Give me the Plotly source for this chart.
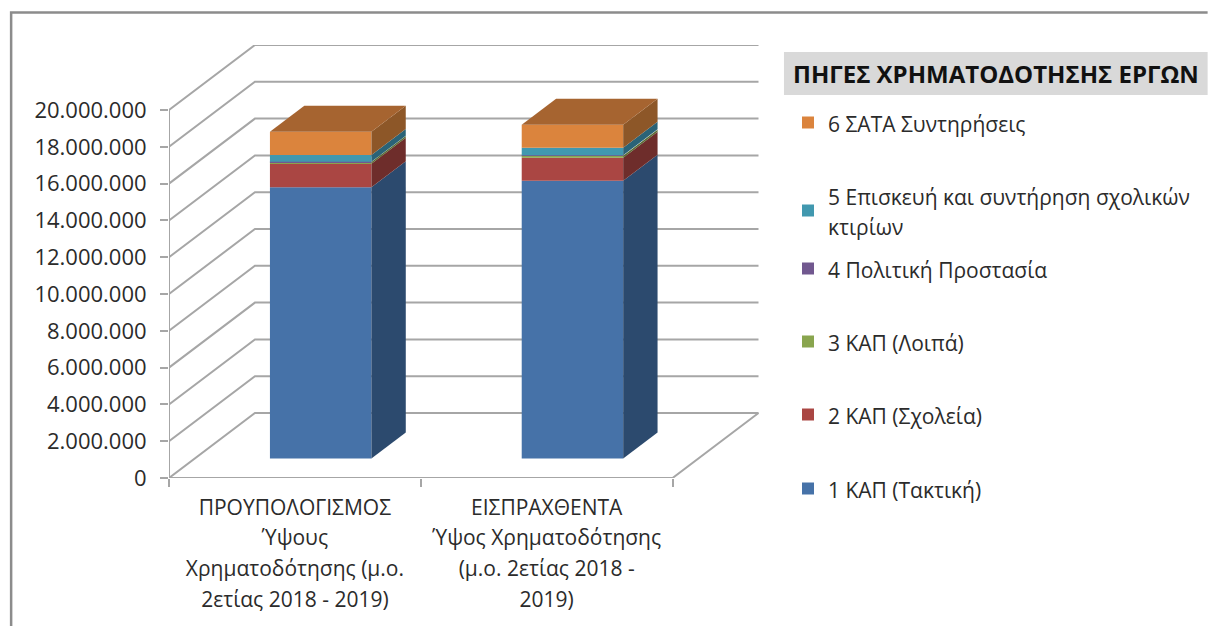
import plotly.graph_objects as go

# ---------- data ----------
categories = ["ΠΡΟΥΠΟΛΟΓΙΣΜΟΣ<br>Ύψους<br>Χρηματοδότησης (μ.ο.<br>2ετίας 2018 - 2019)",
              "ΕΙΣΠΡΑΧΘΕΝΤΑ<br>Ύψος Χρηματοδότησης<br>(μ.ο. 2ετίας 2018 -<br>2019)"]
s1 = [14740000, 15100000]
s2 = [1280000, 1250000]
s3 = [90000, 110000]
s4 = [20000, 20000]
s5 = [360000, 410000]
s6 = [1270000, 1250000]
series_names = ["1 ΚΑΠ (Τακτική)", "2 ΚΑΠ (Σχολεία)", "3 ΚΑΠ (Λοιπά)", "4 Πολιτική Προστασία",
                "5 Επισκευή και συντήρηση σχολικών<br>κτιρίων", "6 ΣΑΤΑ Συντηρήσεις"]
series_values = [s1, s2, s3, s4, s5, s6]
y_ticks = [0, 2000000, 4000000, 6000000, 8000000, 10000000, 12000000, 14000000, 16000000, 18000000, 20000000]
legend_title = "ΠΗΓΕΣ ΧΡΗΜΑΤΟΔΟΤΗΣΗΣ ΕΡΓΩΝ"

# ---------- style ----------
front = ["#4672A8", "#AA4643", "#89A54E", "#71588F", "#4198AF", "#DB843D"]
side = ["#2C4A6E", "#6E2D2B", "#5A6C33", "#4A3A5E", "#2A6377", "#8D5728"]
top_col = "#A66430"
grid = "#A6A6A6"
W, H = 1208, 626
L, R, T, B = 168.5, 760, 45, 478      # plot box in pixels
cat_px, val_px = 252, 18.4 / 1e6      # px per category, px per value unit
dx, dy = 86 / cat_px, 65 / val_px     # chart depth in data units
d0, d1 = 0.3, 0.7                     # bar depth span
bw = 0.403
font = "Open Sans"
txt = "#2b2b2b"
FS, LH, LHX = 21, 30 / 1.3, 30.7 / 1.3


def sized(label):
    """Keep a 30px line pitch while drawing the glyphs at FS."""
    return "<br>".join(f'<span style="font-size:{FS}px">{p}</span>' for p in label.split("<br>"))


def px(x):
    return (x - L) / (R - L)


def py(y):
    return (B - y) / (B - T)


fig = go.Figure()
centers = [0.5, 1.5]
cum = [0, 0]
for i, (name, vals) in enumerate(zip(series_names, series_values)):
    # front face
    fig.add_trace(go.Bar(
        x=[c + d0 * dx for c in centers], y=vals,
        base=[b + d0 * dy for b in cum], width=bw,
        marker=dict(color=front[i], line=dict(width=0)), name=sized(name),
        legend="legend" if i == 0 else f"legend{i + 1}"))
    # side faces
    for k, c in enumerate(centers):
        if vals[k] <= 0:
            continue
        xr = c + bw / 2
        y0, y1 = cum[k], cum[k] + vals[k]
        fig.add_trace(go.Scatter(
            x=[xr + d0 * dx, xr + d1 * dx, xr + d1 * dx, xr + d0 * dx, xr + d0 * dx],
            y=[y0 + d0 * dy, y0 + d1 * dy, y1 + d1 * dy, y1 + d0 * dy, y0 + d0 * dy],
            mode="lines", fill="toself", fillcolor=side[i], line=dict(width=0),
            hoverinfo="skip", showlegend=False))
    cum = [a + b for a, b in zip(cum, vals)]

# top faces
for k, c in enumerate(centers):
    xl, xr = c - bw / 2, c + bw / 2
    fig.add_trace(go.Scatter(
        x=[xl + d0 * dx, xl + d1 * dx, xr + d1 * dx, xr + d0 * dx, xl + d0 * dx],
        y=[cum[k] + d0 * dy, cum[k] + d1 * dy, cum[k] + d1 * dy, cum[k] + d0 * dy, cum[k] + d0 * dy],
        mode="lines", fill="toself", fillcolor=top_col, line=dict(width=0),
        hoverinfo="skip", showlegend=False))

# walls and floor
shapes = []
gl = dict(color=grid, width=2)
for v in y_ticks:
    shapes.append(dict(type="path", xref="x", yref="y", layer="below", line=gl,
                       path=f"M 0 {v} L {dx} {v + dy} L {2 + dx} {v + dy}"))
shapes.append(dict(type="line", xref="x", yref="y", layer="below", line=gl, x0=0, x1=0, y0=0, y1=y_ticks[-1]))
shapes.append(dict(type="path", xref="x", yref="y", layer="below", line=gl,
                   path=f"M 0 0 L 2 0 L {2 + dx} {dy}"))
# outer frame and legend header
shapes.append(dict(type="path", xref="paper", yref="paper", layer="below",
                   line=dict(color="#8C8C8C", width=2.5),
                   path=f"M {px(10.5)} {py(626)} L {px(10.5)} {py(12.5)} L {px(1208)} {py(12.5)}"))
shapes.append(dict(type="rect", xref="paper", yref="paper", layer="below", fillcolor="#D9D9D9",
                   line=dict(width=0), x0=px(784), x1=px(1208), y0=py(95), y1=py(52)))

layout = dict(
    width=W, height=H, autosize=False,
    margin=dict(l=L, r=W - R, t=T, b=H - B, pad=0),
    paper_bgcolor="white", plot_bgcolor="rgba(0,0,0,0)",
    barmode="overlay", separators=",.", shapes=shapes,
    font=dict(family=font, color=txt),
    title=dict(text=f"<b>{legend_title}</b>", x=793 / W, y=1 - 75 / H, xref="container", yref="container",
               xanchor="left", yanchor="middle", font=dict(family=font, size=24, color="#111111")),
    xaxis=dict(range=[0, (R - L) / cat_px], tickvals=centers, ticktext=[sized(c) for c in categories],
               ticks="", showgrid=False, showline=False, zeroline=False, tickangle=0,
               ticklabelstandoff=12, tickfont=dict(size=LHX, color=txt),
               minor=dict(tickvals=[0, 1, 2], ticks="outside", ticklen=8, tickwidth=2, tickcolor=grid, showgrid=False)),
    yaxis=dict(range=[0, (B - T) / val_px], tickvals=y_ticks, tickformat=",d", ticks="outside",
               ticklen=8, tickwidth=2, tickcolor=grid, showgrid=False, showline=False, zeroline=False,
               ticklabelstandoff=9, tickfont=dict(size=22, color=txt)),
    showlegend=True,
)
legend_y = [490, 416, 343, 270, 197, 124]
for i, ly in enumerate(legend_y):
    key = "legend" if i == 0 else f"legend{i + 1}"
    layout[key] = dict(x=788 / W, y=1 - (ly - 23) / H, xref="container", yref="container",
                       xanchor="left", yanchor="top", bgcolor="rgba(0,0,0,0)", borderwidth=0,
                       font=dict(size=LH, color=txt, family=font), itemclick=False, itemdoubleclick=False)
fig.update_layout(**layout)
fig.write_html("out.html", post_script="document.body.style.margin='0';", config={"displayModeBar": False})
